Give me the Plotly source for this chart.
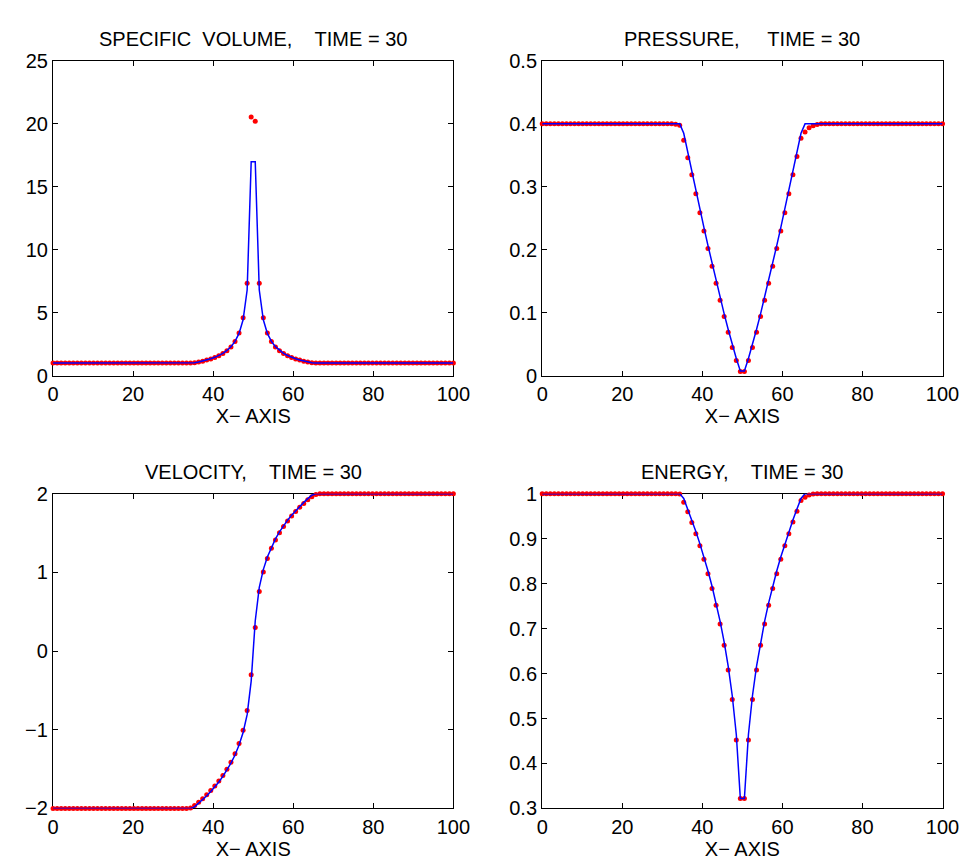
import plotly.graph_objects as go

# uniform grid of 100 cell positions spanning 0..100
x = [i * 100 / 99 for i in range(100)]

# ---- specific volume ----
vol_exact = ([1.0] * 35
             + [1.027, 1.091, 1.163, 1.246, 1.345, 1.461, 1.603, 1.780, 2.005, 2.305, 2.724, 3.359, 4.446, 6.805, 17.0]
             + [17.0, 6.805, 4.446, 3.359, 2.724, 2.305, 2.005, 1.780, 1.603, 1.461, 1.345, 1.246, 1.163, 1.091, 1.027]
             + [1.0] * 35)
vol_num = ([1.0] * 34 + [1.003]
           + [1.025, 1.085, 1.155, 1.24, 1.335, 1.45, 1.59, 1.77, 1.99, 2.29, 2.72, 3.40, 4.60, 7.35, 20.55]
           + [20.2, 7.35, 4.60, 3.40, 2.72, 2.29, 1.99, 1.77, 1.59, 1.45, 1.335, 1.24, 1.155, 1.085, 1.03]
           + [1.01, 1.003] + [1.0] * 33)

# ---- pressure ----
pres_exact = ([0.4] * 35
              + [0.3851, 0.3543, 0.3239, 0.2939, 0.2643, 0.2352, 0.2065, 0.1785, 0.1510, 0.1243, 0.0983, 0.0734, 0.0495, 0.0273, 0.0076]
              + [0.0076, 0.0273, 0.0495, 0.0734, 0.0983, 0.1243, 0.1510, 0.1785, 0.2065, 0.2352, 0.2643, 0.2939, 0.3239, 0.3543, 0.3851]
              + [0.4] * 35)
pres_num = ([0.4] * 33 + [0.3995, 0.398]
            + [0.374, 0.346, 0.319, 0.289, 0.259, 0.230, 0.202, 0.174, 0.147, 0.120, 0.094, 0.069, 0.045, 0.024, 0.0065]
            + [0.0065, 0.024, 0.045, 0.069, 0.094, 0.120, 0.147, 0.174, 0.202, 0.230, 0.259, 0.289, 0.319, 0.348, 0.377]
            + [0.387, 0.394, 0.397, 0.399] + [0.4] * 31)

# ---- velocity ----
vel_exact = ([-2.0] * 35
             + [-1.980, -1.936, -1.889, -1.839, -1.785, -1.727, -1.663, -1.593, -1.514, -1.425, -1.321, -1.195, -1.035, -0.809, -0.382]
             + [0.382, 0.809, 1.035, 1.195, 1.321, 1.425, 1.514, 1.593, 1.663, 1.727, 1.785, 1.839, 1.889, 1.936, 1.980]
             + [2.0] * 35)
vel_num = ([-2.0] * 34 + [-1.995]
           + [-1.962, -1.922, -1.876, -1.826, -1.773, -1.715, -1.651, -1.581, -1.502, -1.412, -1.305, -1.175, -1.005, -0.755, -0.300]
           + [0.300, 0.755, 1.005, 1.175, 1.305, 1.412, 1.502, 1.581, 1.651, 1.715, 1.773, 1.826, 1.876, 1.922, 1.962]
           + [1.99, 1.998] + [2.0] * 33)

# ---- energy ----
ener_exact = ([1.0] * 35
              + [0.9893, 0.9660, 0.9415, 0.9157, 0.8883, 0.8592, 0.8279, 0.7941, 0.7571, 0.7161, 0.6697, 0.6159, 0.5506, 0.4644, 0.3220]
              + [0.3220, 0.4644, 0.5506, 0.6159, 0.6697, 0.7161, 0.7571, 0.7941, 0.8279, 0.8592, 0.8883, 0.9157, 0.9415, 0.9660, 0.9893]
              + [1.0] * 35)
ener_num = ([1.0] * 34 + [0.999]
            + [0.981, 0.960, 0.936, 0.911, 0.884, 0.854, 0.822, 0.789, 0.752, 0.710, 0.663, 0.608, 0.542, 0.452, 0.322]
            + [0.322, 0.452, 0.542, 0.608, 0.663, 0.710, 0.752, 0.789, 0.822, 0.854, 0.884, 0.911, 0.937, 0.961, 0.985]
            + [0.992, 0.997, 0.999] + [1.0] * 32)

NB = "\u00a0"
titles = [
    "SPECIFIC" + NB * 2 + "VOLUME," + NB * 4 + "TIME = 30",
    "PRESSURE," + NB * 5 + "TIME = 30",
    "VELOCITY," + NB * 4 + "TIME = 30",
    "ENERGY," + NB * 4 + "TIME = 30",
]
panels = [
    (vol_num, vol_exact, "x", "y"),
    (pres_num, pres_exact, "x2", "y2"),
    (vel_num, vel_exact, "x3", "y3"),
    (ener_num, ener_exact, "x4", "y4"),
]

FONT = "Liberation Sans, Arial, Helvetica, sans-serif"
FS = 20
W, H = 973, 867

fig = go.Figure()
for num, exact, xa, ya in panels:
    fig.add_trace(go.Scatter(x=x, y=num, mode="markers", xaxis=xa, yaxis=ya,
                             marker=dict(color="#ff0000", size=5, line=dict(width=0)),
                             cliponaxis=False, showlegend=False))
    fig.add_trace(go.Scatter(x=x, y=exact, mode="lines", xaxis=xa, yaxis=ya,
                             line=dict(color="#0000ff", width=1.5),
                             showlegend=False))

# pixel geometry of the four plot boxes
left_dom = [40 / W, 450 / W]
right_dom = [541 / W, 951 / W]
top_dom = [1 - 366 / H, 1 - 43 / H]
bot_dom = [1 - 810 / H, 1 - 487 / H]

common = dict(showgrid=False, zeroline=False, showline=True, linecolor="black", linewidth=1.3,
              mirror="ticks", ticks="inside", ticklen=5, tickwidth=1, tickcolor="black",
              tickfont=dict(family=FONT, size=FS, color="black"), layer="below traces")

def xax(dom, anchor):
    return dict(common, domain=dom, anchor=anchor, range=[0, 100], tick0=0, dtick=20,
                title=dict(text="X\u2212 AXIS", font=dict(family=FONT, size=FS, color="black"), standoff=2))

fig.update_layout(
    width=W, height=H, margin=dict(l=0, r=0, t=0, b=0),
    paper_bgcolor="white", plot_bgcolor="white", showlegend=False,
    xaxis=xax(left_dom, "y"), xaxis2=xax(right_dom, "y2"),
    xaxis3=xax(left_dom, "y3"), xaxis4=xax(right_dom, "y4"),
    yaxis=dict(common, domain=top_dom, anchor="x", range=[0, 25], tick0=0, dtick=5),
    yaxis2=dict(common, domain=top_dom, anchor="x2", range=[0, 0.5], tick0=0, dtick=0.1),
    yaxis3=dict(common, domain=bot_dom, anchor="x3", range=[-2, 2], tick0=-2, dtick=1),
    yaxis4=dict(common, domain=bot_dom, anchor="x4", range=[0.3, 1], tick0=0.3, dtick=0.1),
)

centers = [(245 / W, 1 - 21 / H), (746 / W, 1 - 21 / H), (245 / W, 1 - 465 / H), (746 / W, 1 - 465 / H)]
for t, (cx, cy) in zip(titles, centers):
    fig.add_annotation(text=t, x=cx, y=cy, xref="paper", yref="paper", showarrow=False,
                       xanchor="center", yanchor="middle",
                       font=dict(family=FONT, size=FS, color="black"))

fig.write_html("out.html")
